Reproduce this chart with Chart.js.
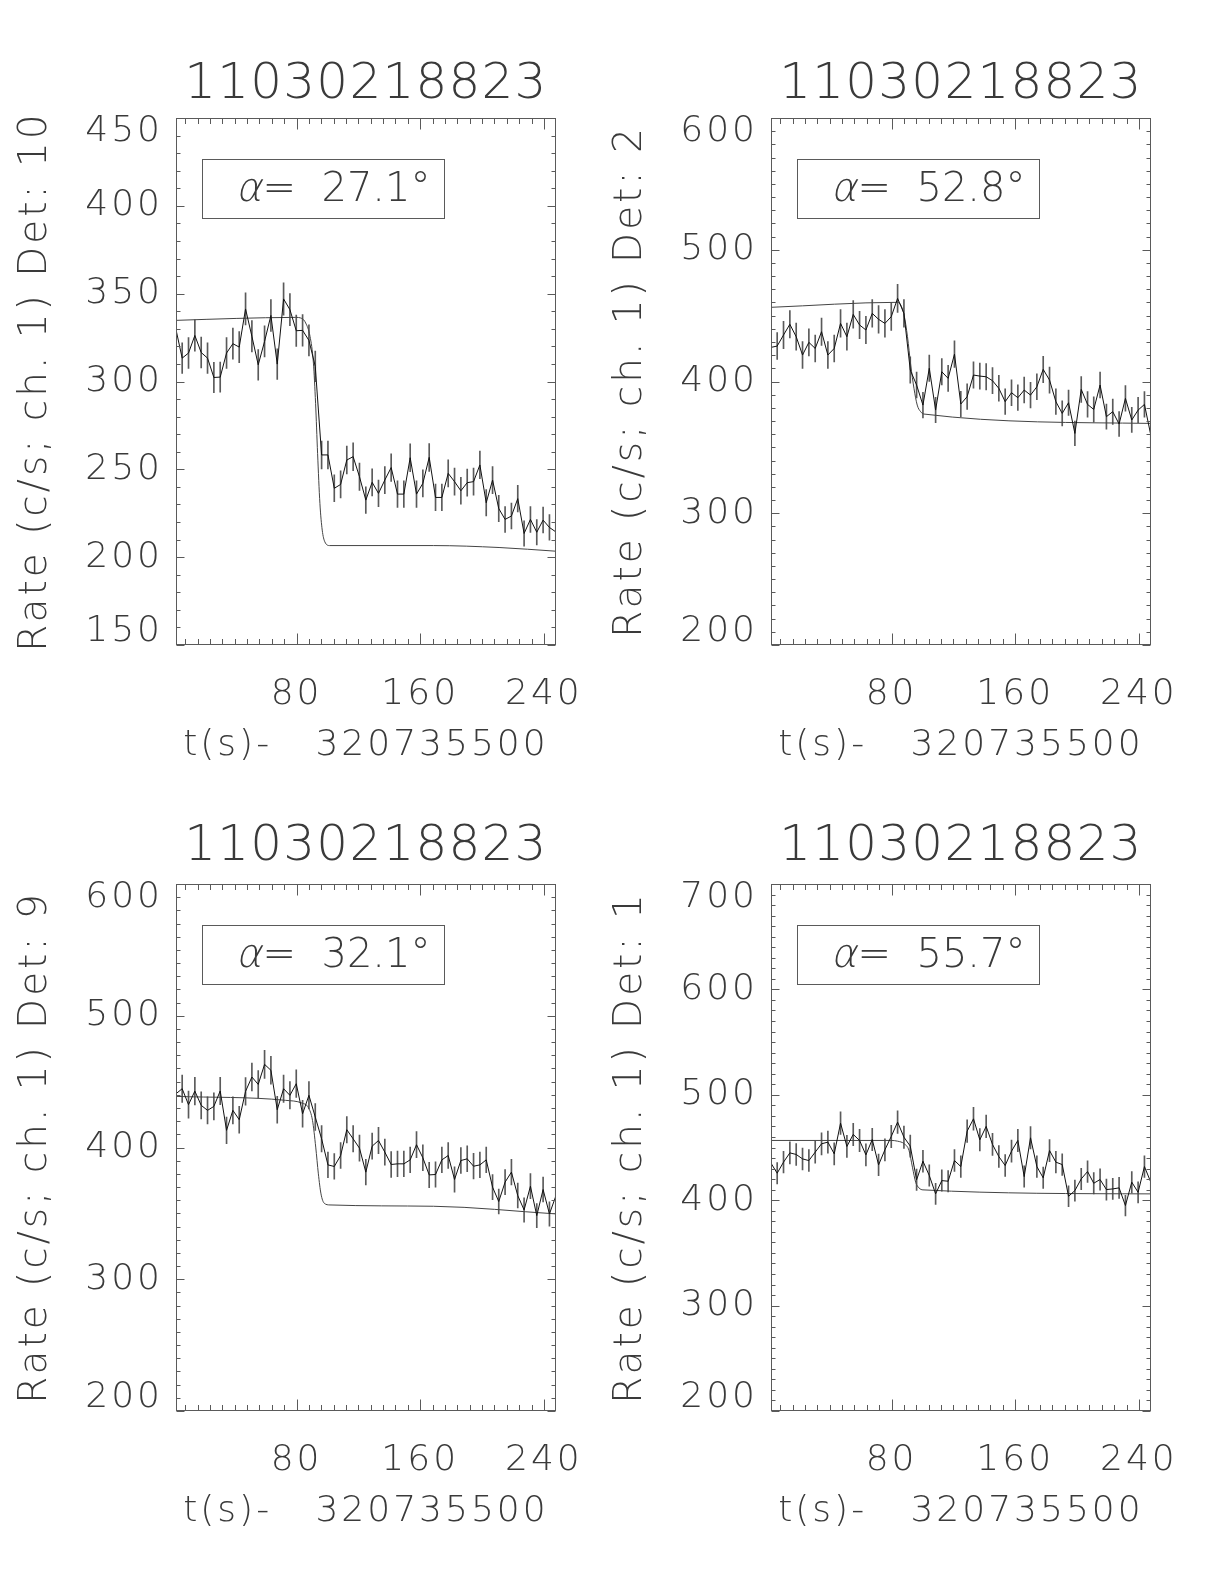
<!DOCTYPE html>
<html><head><meta charset="utf-8">
<script src="https://cdn.jsdelivr.net/npm/chart.js@4.4.1/dist/chart.umd.min.js"></script>
<style>
html,body{margin:0;padding:0;background:#fff;}
#wrap{position:relative;width:1224px;height:1584px;background:#fff;overflow:hidden;}
canvas{position:absolute;}
</style></head><body><div id="wrap">
<canvas id="c0" width="612" height="790" style="left:0px;top:0px"></canvas>
<canvas id="c1" width="612" height="790" style="left:595px;top:0px"></canvas>
<canvas id="c2" width="612" height="790" style="left:0px;top:766px"></canvas>
<canvas id="c3" width="612" height="790" style="left:595px;top:766px"></canvas>
</div>
<script>
const burstId = '11030218823';
const timeTitle = 't(s)-   320735500';
const binWidth = 4.096;
const timeBins = [2.0, 6.0, 10.1, 14.2, 18.3, 22.4, 26.5, 30.6, 34.7, 38.8, 42.9, 47.0, 51.1, 55.2, 59.3, 63.4, 67.5, 71.6, 75.7, 79.8, 83.9, 88.0, 92.1, 96.2, 100.3, 104.4, 108.5, 112.5, 116.6, 120.7, 124.8, 128.9, 133.0, 137.1, 141.2, 145.3, 149.4, 153.5, 157.6, 161.7, 165.8, 169.9, 174.0, 178.1, 182.2, 186.3, 190.4, 194.5, 198.6, 202.7, 206.8, 210.8, 214.9, 219.0, 223.1, 227.2, 231.3, 235.4, 239.5, 243.6, 247.7];
const xTickMajor = 80;
const xTickMinor = 8;

const detectors = ['10', '2', '9', '1'];
const angles = ['27.1', '52.8', '32.1', '55.7'];
const yMins = [150, 200, 200, 200];
const yMaxs = [450, 600, 600, 700];
const yMajors = [50, 100, 100, 100];
const yMinor = 10;

const rateDet10 = [329.5, 313.3, 316.2, 326.2, 316.5, 313.3, 302.3, 302.5, 316.2, 321.5, 319.6, 341.3, 325.7, 309.5, 322.8, 337.6, 309.9, 347.0, 340.9, 328.9, 329.1, 323.4, 308.6, 258.2, 258.2, 239.2, 241.4, 255.3, 257.2, 245.8, 232.5, 242.6, 236.3, 243.9, 251.0, 235.9, 235.9, 256.6, 235.9, 242.0, 256.8, 234.0, 234.0, 247.7, 243.0, 237.8, 242.4, 243.0, 252.5, 231.0, 243.9, 227.7, 221.5, 223.4, 233.3, 213.5, 221.5, 214.2, 221.1, 216.9, 214.4];
const rateDet2 = [425.9, 426.9, 435.3, 443.4, 434.0, 420.1, 429.7, 425.1, 437.8, 420.1, 425.1, 444.1, 434.0, 450.9, 442.9, 439.1, 451.7, 447.2, 444.1, 449.2, 463.1, 451.7, 408.7, 397.3, 382.1, 410.0, 378.3, 407.4, 402.4, 420.8, 382.9, 388.5, 404.9, 404.1, 403.6, 400.6, 394.8, 384.7, 391.5, 387.7, 393.5, 389.7, 396.0, 409.2, 401.1, 384.7, 375.8, 383.9, 360.6, 394.0, 382.6, 378.8, 397.3, 373.3, 377.1, 367.7, 387.2, 370.8, 378.3, 382.6, 359.4];
const rateDet9 = [440.8, 444.6, 432.5, 442.8, 432.0, 428.2, 431.2, 442.9, 413.0, 428.2, 421.1, 442.6, 453.5, 447.9, 463.1, 458.6, 428.7, 444.6, 439.6, 448.4, 425.6, 439.6, 423.1, 406.6, 386.8, 385.6, 393.9, 413.5, 406.6, 399.5, 381.3, 401.0, 405.3, 396.5, 387.1, 387.6, 387.6, 390.6, 402.1, 392.2, 379.2, 379.5, 390.6, 393.9, 375.7, 390.1, 391.4, 385.8, 386.8, 390.6, 369.9, 359.0, 373.7, 381.3, 363.5, 352.6, 370.6, 348.3, 368.1, 349.6, 363.0];
const rateDet1 = [435.1, 425.6, 436.1, 444.9, 443.4, 439.2, 437.6, 445.6, 453.5, 455.1, 444.0, 473.1, 451.0, 462.4, 456.7, 443.0, 457.6, 433.5, 447.8, 460.5, 474.1, 459.8, 451.3, 419.3, 437.0, 423.4, 406.0, 418.6, 418.0, 437.6, 431.9, 465.5, 477.2, 457.3, 470.0, 452.9, 441.4, 432.9, 446.5, 456.7, 422.4, 459.2, 431.9, 421.2, 447.1, 436.1, 433.8, 403.7, 409.1, 420.2, 427.2, 416.1, 419.6, 410.1, 410.7, 411.7, 394.9, 417.1, 407.5, 431.9, 417.1];

const modelTimeDet10 = [2.0, 40.9, 79.2, 83.4, 85.9, 88.7, 90.9, 92.3, 93.6, 95.1, 96.6, 98.3, 101.5, 168.5, 211.0, 247.7];
const modelRateDet10 = [334.8, 335.9, 336.5, 335.9, 333.3, 325.7, 310.5, 287.6, 259.1, 230.6, 215.4, 208.7, 206.6, 206.6, 205.5, 203.4];
const modelTimeDet2 = [2.0, 83.9, 86.0, 88.1, 90.3, 92.4, 94.5, 96.6, 98.8, 100.9, 247.7];
const modelRateDet2 = [456.3, 460.1, 458.0, 450.4, 434.0, 412.5, 394.8, 382.1, 377.1, 375.3, 368.2];
const modelTimeDet9 = [2.0, 72.8, 83.5, 87.7, 90.3, 92.4, 94.1, 95.8, 97.9, 101.6, 168.6, 247.7];
const modelRateDet9 = [438.8, 435.8, 433.7, 430.2, 420.6, 400.3, 380.0, 364.8, 357.7, 356.4, 355.4, 349.6];
const modelTimeDet1 = [2.0, 79.6, 83.9, 88.2, 91.3, 93.5, 95.6, 97.7, 100.3, 247.7];
const modelRateDet1 = [456.7, 456.7, 456.0, 453.5, 447.1, 431.3, 417.0, 411.7, 409.8, 406.0];

const rates = [rateDet10, rateDet2, rateDet9, rateDet1];
const modelTimes = [modelTimeDet10, modelTimeDet2, modelTimeDet9, modelTimeDet1];
const modelRates = [modelRateDet10, modelRateDet2, modelRateDet9, modelRateDet1];

const FONT = '"DejaVu Sans", "Liberation Sans", sans-serif';
const INK = '#3a3a3a';
const AXIS = '#5a5a5a';
Chart.defaults.font.family = FONT;
Chart.defaults.color = INK;

const idlPlugin = {
  id: 'idlFrame',
  beforeDraw(chart) { chart.ctx.letterSpacing = '1.2px'; },
  afterDatasetsDraw(chart) { chart.ctx.letterSpacing = '3px'; },
  afterDraw(chart, args, opts) {
    const {ctx, chartArea: a, scales: {x, y}} = chart;
    ctx.save();
    ctx.letterSpacing = '0px';
    ctx.strokeStyle = AXIS; ctx.lineWidth = 1;
    const L = Math.round(a.left) + 0.5, R = Math.round(a.right) - 0.5;
    const T = Math.round(a.top) + 0.5, B = Math.round(a.bottom) - 0.5;
    ctx.strokeRect(L, T, R - L, B - T);
    ctx.beginPath();
    x.ticks.forEach(t => {
      const px = Math.round(x.getPixelForValue(t.value)) + 0.5;
      const len = (Math.abs(t.value % opts.xMajor) < 1e-6) ? 11 : 5.5;
      ctx.moveTo(px, B); ctx.lineTo(px, B - len);
      ctx.moveTo(px, T); ctx.lineTo(px, T + len);
    });
    y.ticks.forEach(t => {
      const py = Math.round(y.getPixelForValue(t.value)) + 0.5;
      const len = (Math.abs(t.value % opts.yMajor) < 1e-6) ? 8 : 4;
      ctx.moveTo(L, py); ctx.lineTo(L + len, py);
      ctx.moveTo(R, py); ctx.lineTo(R - len, py);
    });
    ctx.stroke();
    const bx = Math.round(a.left + 26) + 0.5, by = Math.round(a.top + 41) + 0.5;
    ctx.strokeRect(bx, by, 242, 59);
    ctx.fillStyle = INK;
    ctx.textAlign = 'left'; ctx.textBaseline = 'alphabetic';
    ctx.font = '200 40px ' + FONT;
    ctx.save();
    ctx.translate(bx + 33, by + 41);
    ctx.transform(1, 0, -0.22, 1, 0, 0);
    ctx.fillText('\u03b1', 0, 0);
    ctx.restore();
    ctx.fillText('=  ' + opts.angle + '\u00b0', bx + 60, by + 41);
    ctx.restore();
  }
};

function makePanel(k) {
  const r = rates[k];
  const yMin = yMins[k], yMax = yMaxs[k], yMajor = yMajors[k];
  const errBars = timeBins.map((t, i) => {
    const e = Math.sqrt(r[i] / binWidth);
    return {x: t, y: [r[i] - e, r[i] + e]};
  });
  const line = timeBins.map((t, i) => ({x: t, y: r[i]}));
  const model = modelTimes[k].map((t, i) => ({x: t, y: modelRates[k][i]}));
  const isTop = k < 2;
  new Chart(document.getElementById('c' + k), {
    type: 'line',
    data: {datasets: [
      {type: 'bar', data: errBars, backgroundColor: '#5a5a5a', borderWidth: 0, barThickness: 1, grouped: false, order: 3},
      {type: 'line', data: line, borderColor: '#111', borderWidth: 1, pointRadius: 0, tension: 0, order: 1},
      {type: 'line', data: model, borderColor: '#444', borderWidth: 1, pointRadius: 0, cubicInterpolationMode: 'monotone', order: 2}
    ]},
    options: {
      responsive: false, animation: false, devicePixelRatio: 1,
      events: [],
      layout: {padding: {left: 0, right: 51, top: 0, bottom: 0}},
      plugins: {
        legend: {display: false}, tooltip: {enabled: false},
        title: {display: true, text: burstId, fullSize: false, color: INK,
          font: {size: 50, weight: 200, lineHeight: 1},
          padding: isTop ? {top: 60, bottom: 8} : {top: 56, bottom: 12}},
        idlFrame: {angle: angles[k], xMajor: xTickMajor, yMajor: yMajor}
      },
      scales: {
        x: {
          type: 'linear', min: timeBins[0], max: timeBins[timeBins.length - 1], offset: false,
          grid: {display: false, drawTicks: false, offset: false, z: 1}, border: {display: false},
          ticks: {stepSize: xTickMinor, autoSkip: false, includeBounds: false, maxRotation: 0, minRotation: 0, z: 1,
            padding: 32, color: INK, font: {size: 36, weight: 200, lineHeight: 1},
            callback: v => (v % xTickMajor === 0) ? String(v) : ''},
          title: {display: true, text: timeTitle, color: INK, font: {size: 36, weight: 200, lineHeight: 1},
            padding: {top: 0, bottom: 26}},
          afterFit: s => { s.height = 145; }
        },
        y: {
          type: 'linear', min: yMin, max: yMax, beginAtZero: false,
          grid: {display: false, drawTicks: false, z: 1}, border: {display: false},
          ticks: {stepSize: yMinor, autoSkip: false, includeBounds: true, padding: 13, color: INK, z: 1,
            font: {size: 36, weight: 200, lineHeight: 0.75},
            callback: v => {
              if (v % yMajor !== 0) return '';
              if (v === yMax) return ['', String(v)];
              if (v === yMin) return [String(v), ''];
              return String(v);
            }},
          title: {display: true, text: 'Rate (c/s; ch. 1) Det: ' + detectors[k], color: INK,
            font: {size: 39, weight: 200, lineHeight: 1}, padding: {top: 16, bottom: 0}},
          afterFit: s => { s.width = 176; }
        }
      }
    },
    plugins: [idlPlugin]
  });
}
[0, 1, 2, 3].forEach(makePanel);
</script>
</body></html>
